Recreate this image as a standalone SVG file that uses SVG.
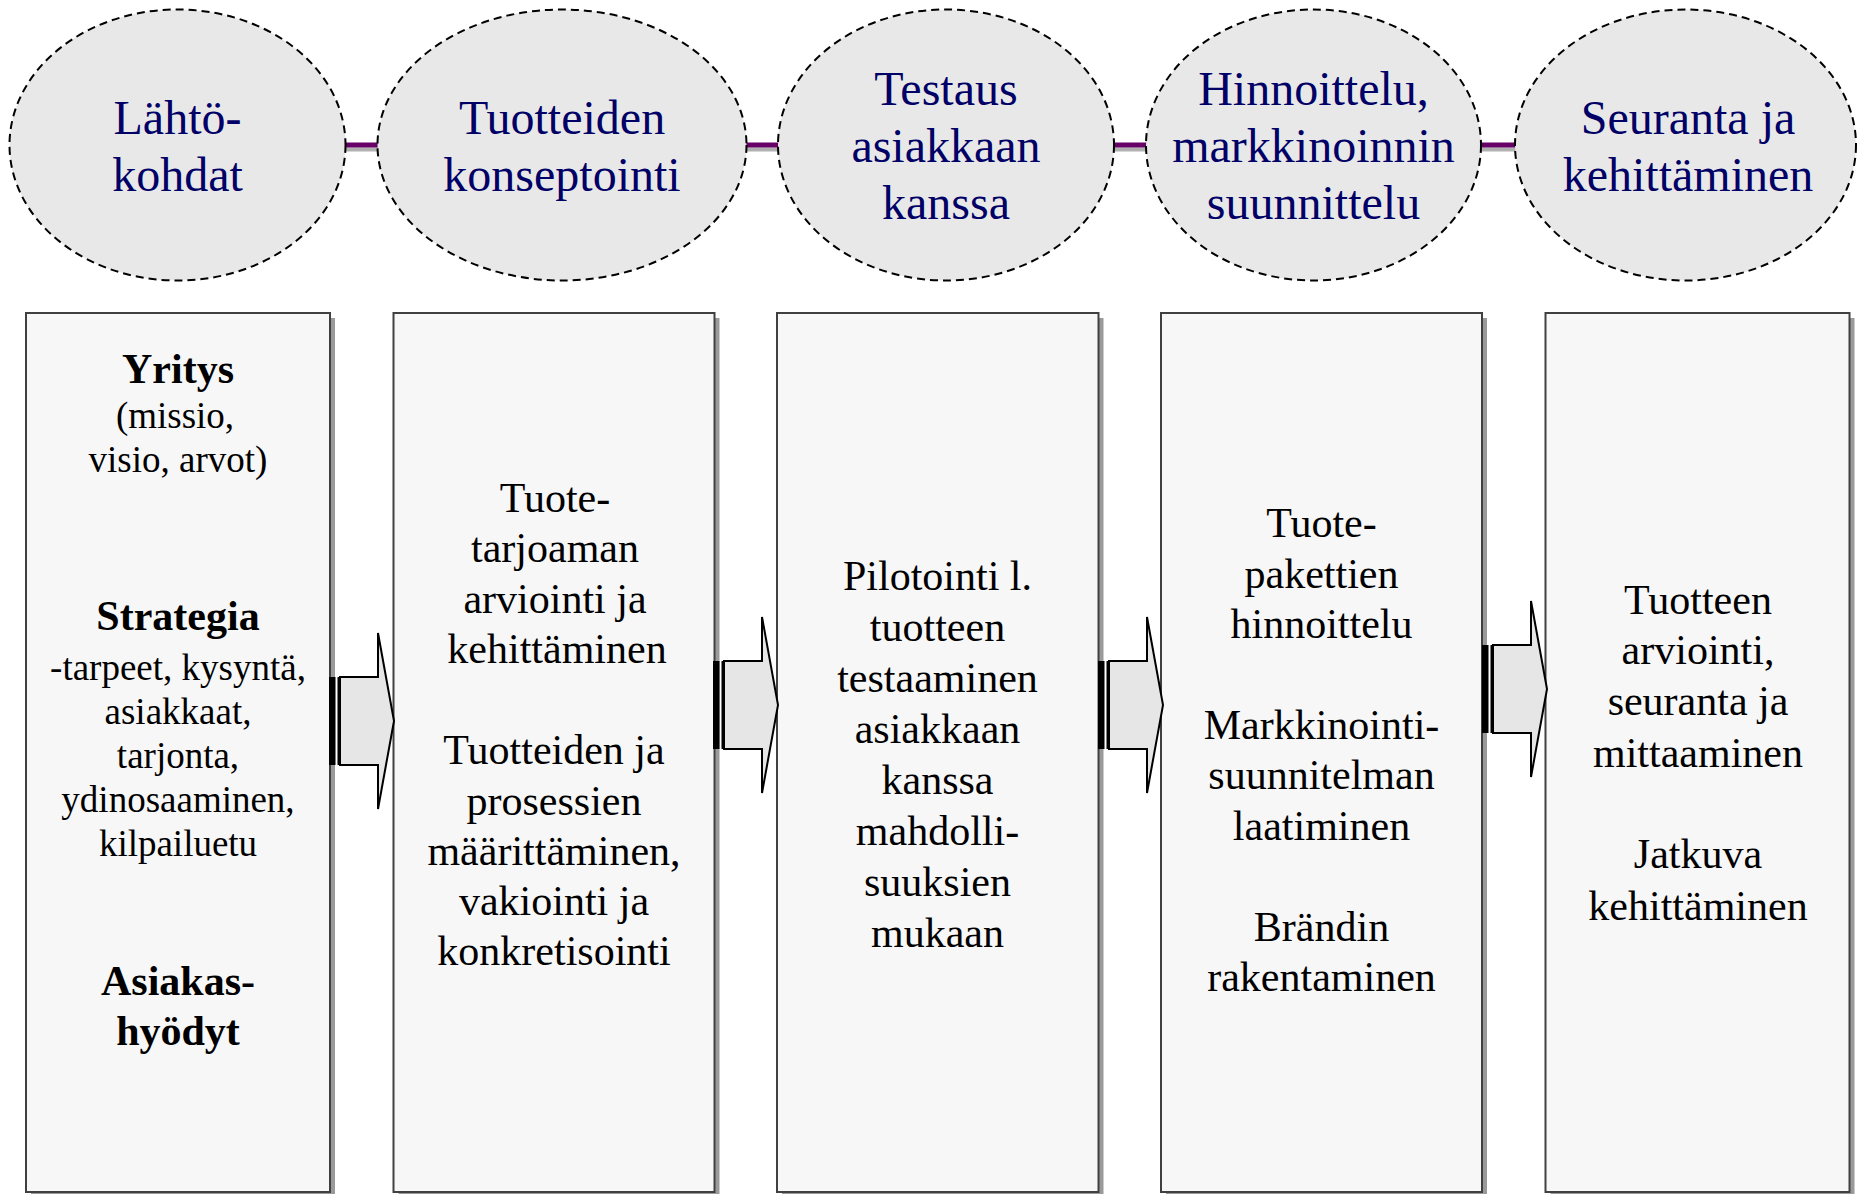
<svg xmlns="http://www.w3.org/2000/svg" width="1858" height="1194" viewBox="0 0 1858 1194">
<style>
.ell{fill:#e8e8e8;stroke:#000;stroke-width:2;stroke-dasharray:8 5}
.et{font-family:"Liberation Serif","Times New Roman",serif;font-size:48px;fill:#000066;text-anchor:middle}
.box{fill:#f7f7f7;stroke:#404040;stroke-width:2}
.shd{fill:#9a9a9a}
.bt{font-family:"Liberation Serif","Times New Roman",serif;font-size:42px;fill:#000;text-anchor:middle}
.b1{font-size:37px}
.bold{font-weight:bold;font-size:42px}
.lnk{stroke:#660066;stroke-width:5}
.lsh{stroke:#b0b0b0;stroke-width:4}
.abody{fill:#e6e6e6;stroke:#000;stroke-width:2;stroke-linejoin:miter}
</style>
<defs>
<g id="arrow">
<rect x="0" y="-44" width="6.5" height="88" fill="#000"/>
<rect x="8.5" y="-44" width="1.5" height="88" fill="#000"/>
<polygon class="abody" points="11,-44 49,-44 49,-88 65,0 49,88 49,44 11,44"/>
</g>
</defs>
<g id="connectors">
<line class="lsh" x1="346" y1="149.5" x2="379" y2="149.5"/>
<line class="lnk" x1="345" y1="145" x2="379" y2="145"/>
<line class="lsh" x1="746" y1="149.5" x2="779" y2="149.5"/>
<line class="lnk" x1="745" y1="145" x2="779" y2="145"/>
<line class="lsh" x1="1114" y1="149.5" x2="1147" y2="149.5"/>
<line class="lnk" x1="1113" y1="145" x2="1147" y2="145"/>
<line class="lsh" x1="1481" y1="149.5" x2="1516" y2="149.5"/>
<line class="lnk" x1="1480" y1="145" x2="1516" y2="145"/>
</g>
<g id="e1">
<ellipse class="ell" cx="177.5" cy="145" rx="168" ry="135.5"/>
<text class="et" x="177.5"><tspan x="177.5" y="134">Lähtö-</tspan><tspan x="177.5" y="191">kohdat</tspan></text>
</g>
<g id="e2">
<ellipse class="ell" cx="562" cy="145" rx="184.5" ry="135.5"/>
<text class="et"><tspan x="562" y="134">Tuotteiden</tspan><tspan x="562" y="191">konseptointi</tspan></text>
</g>
<g id="e3">
<ellipse class="ell" cx="946" cy="145" rx="168" ry="135.5"/>
<text class="et"><tspan x="946" y="105">Testaus</tspan><tspan x="946" y="162">asiakkaan</tspan><tspan x="946" y="219">kanssa</tspan></text>
</g>
<g id="e4">
<ellipse class="ell" cx="1313.5" cy="145" rx="167.5" ry="135.5"/>
<text class="et"><tspan x="1313.5" y="105">Hinnoittelu,</tspan><tspan x="1313.5" y="162">markkinoinnin</tspan><tspan x="1313.5" y="219">suunnittelu</tspan></text>
</g>
<g id="e5">
<ellipse class="ell" cx="1685.5" cy="145" rx="170.5" ry="135.5"/>
<text class="et"><tspan x="1688" y="134">Seuranta ja</tspan><tspan x="1688" y="191">kehittäminen</tspan></text>
</g>
<g id="b1">
<rect class="shd" x="31" y="318" width="304" height="880"/>
<rect class="box" x="26" y="313" width="304" height="879"/>
<text class="bt b1"><tspan class="bold" x="178" y="382.5">Yritys</tspan><tspan x="175" y="428">(missio,</tspan><tspan x="178" y="471.5">visio, arvot)</tspan><tspan class="bold" x="178" y="630">Strategia</tspan><tspan x="178" y="680">-tarpeet, kysyntä,</tspan><tspan x="178" y="724">asiakkaat,</tspan><tspan x="178" y="768">tarjonta,</tspan><tspan x="178" y="812">ydinosaaminen,</tspan><tspan x="178" y="856">kilpailuetu</tspan><tspan class="bold" x="178" y="995">Asiakas-</tspan><tspan class="bold" x="178" y="1045">hyödyt</tspan></text>
</g>
<g id="b2">
<rect class="shd" x="398.5" y="318" width="321" height="880"/>
<rect class="box" x="393.5" y="313" width="321" height="879"/>
<text class="bt"><tspan x="555" y="511.5">Tuote-</tspan><tspan x="555" y="562">tarjoaman</tspan><tspan x="555" y="612.5">arviointi ja</tspan><tspan x="557" y="663">kehittäminen</tspan><tspan x="554" y="764">Tuotteiden ja</tspan><tspan x="554" y="814.5">prosessien</tspan><tspan x="554" y="865">määrittäminen,</tspan><tspan x="554" y="915">vakiointi ja</tspan><tspan x="554" y="965">konkretisointi</tspan></text>
</g>
<g id="b3">
<rect class="shd" x="782" y="318" width="321.5" height="880"/>
<rect class="box" x="777" y="313" width="321.5" height="879"/>
<text class="bt"><tspan x="937.5" y="590">Pilotointi l.</tspan><tspan x="937.5" y="641">tuotteen</tspan><tspan x="937.5" y="692">testaaminen</tspan><tspan x="937.5" y="742.5">asiakkaan</tspan><tspan x="937.5" y="793.5">kanssa</tspan><tspan x="937.5" y="845">mahdolli-</tspan><tspan x="937.5" y="895.5">suuksien</tspan><tspan x="937.5" y="947">mukaan</tspan></text>
</g>
<g id="b4">
<rect class="shd" x="1166" y="318" width="321" height="880"/>
<rect class="box" x="1161" y="313" width="321" height="879"/>
<text class="bt"><tspan x="1321.5" y="537">Tuote-</tspan><tspan x="1321.5" y="587.5">pakettien</tspan><tspan x="1321.5" y="638">hinnoittelu</tspan><tspan x="1321.5" y="739">Markkinointi-</tspan><tspan x="1321.5" y="789">suunnitelman</tspan><tspan x="1321.5" y="840">laatiminen</tspan><tspan x="1321.5" y="941">Brändin</tspan><tspan x="1321.5" y="991">rakentaminen</tspan></text>
</g>
<g id="b5">
<rect class="shd" x="1550.5" y="318" width="304" height="880"/>
<rect class="box" x="1545.5" y="313" width="304" height="879"/>
<text class="bt"><tspan x="1698" y="613.5">Tuotteen</tspan><tspan x="1698" y="664">arviointi,</tspan><tspan x="1698" y="715">seuranta ja</tspan><tspan x="1698" y="766.5">mittaaminen</tspan><tspan x="1698" y="868">Jatkuva</tspan><tspan x="1698" y="919.5">kehittäminen</tspan></text>
</g>
<g id="arrows">
<use href="#arrow" transform="translate(329,721)"/>
<use href="#arrow" transform="translate(713,705)"/>
<use href="#arrow" transform="translate(1098,705)"/>
<use href="#arrow" transform="translate(1482,689)"/>
</g>
</svg>
